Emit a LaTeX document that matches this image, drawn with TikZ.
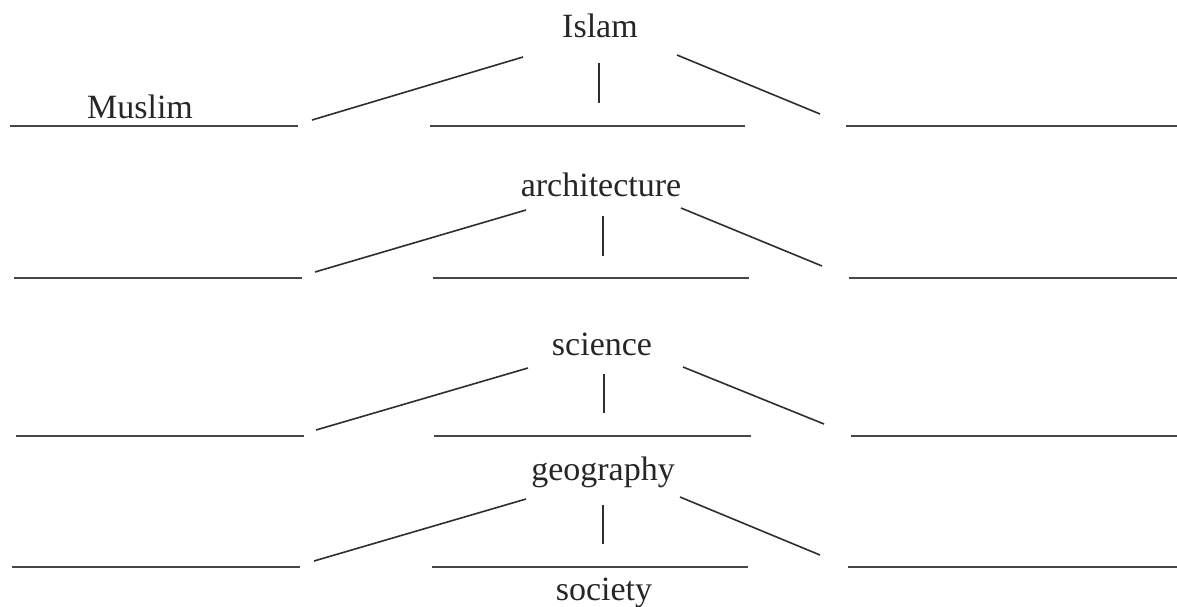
\documentclass[tikz,border=0pt]{standalone}
\usepackage{fontspec}
\setmainfont{Liberation Serif}
\begin{document}
\begin{tikzpicture}[x=1pt, y=-1pt,
  word/.style={anchor=base, inner sep=0pt, text=black!85, font=\fontsize{34}{40}\selectfont},
  rule/.style={line width=1.8pt, draw=black!72},
  spoke/.style={line width=1.6pt, draw=black!82}]
\useasboundingbox (0,0) rectangle (1177,606);

% topic words
\node[word] (islam) at (600,37)  {Islam};
\node[word] (arch)  at (601,196) {architecture};
\node[word] (sci)   at (602,355) {science};
\node[word] (geo)   at (603,480) {geography};
\node[word] (soc)   at (604,600) {society};
\node[word] (mus)   at (140,118) {Muslim};

% answer lines: three per row
\coordinate (a1) at (10,126);  \coordinate (a2) at (298,126);
\coordinate (a3) at (430,126); \coordinate (a4) at (745,126);
\coordinate (a5) at (846,126); \coordinate (a6) at (1177,126);
\coordinate (b1) at (14,278);  \coordinate (b2) at (302,278);
\coordinate (b3) at (433,278); \coordinate (b4) at (749,278);
\coordinate (b5) at (849,278); \coordinate (b6) at (1177,278);
\coordinate (c1) at (16,436);  \coordinate (c2) at (304,436);
\coordinate (c3) at (434,436); \coordinate (c4) at (751,436);
\coordinate (c5) at (851,436); \coordinate (c6) at (1177,436);
\coordinate (d1) at (12,567);  \coordinate (d2) at (300,567);
\coordinate (d3) at (432,567); \coordinate (d4) at (748,567);
\coordinate (d5) at (848,567); \coordinate (d6) at (1177,567);
\foreach \r in {a,b,c,d}{
  \draw[rule] (\r1) -- (\r2);
  \draw[rule] (\r3) -- (\r4);
  \draw[rule] (\r5) -- (\r6);
}

% spokes from each word down to its three lines
\coordinate (aL1) at (312,120); \coordinate (aL2) at (523,57);
\coordinate (aV1) at (599,63);  \coordinate (aV2) at (599,103);
\coordinate (aR1) at (677,55);  \coordinate (aR2) at (820,114);
\coordinate (bL1) at (315,272); \coordinate (bL2) at (526,210);
\coordinate (bV1) at (603,216); \coordinate (bV2) at (603,256);
\coordinate (bR1) at (681,208); \coordinate (bR2) at (822,266);
\coordinate (cL1) at (316,430); \coordinate (cL2) at (528,368);
\coordinate (cV1) at (604,374); \coordinate (cV2) at (604,413);
\coordinate (cR1) at (683,367); \coordinate (cR2) at (824,424);
\coordinate (dL1) at (314,561); \coordinate (dL2) at (526,499);
\coordinate (dV1) at (603,505); \coordinate (dV2) at (603,544);
\coordinate (dR1) at (680,497); \coordinate (dR2) at (820,555);
\foreach \r in {a,b,c,d}{
  \draw[spoke] (\r L1) -- (\r L2);
  \draw[spoke] (\r V1) -- (\r V2);
  \draw[spoke] (\r R1) -- (\r R2);
}
\end{tikzpicture}
\end{document}
